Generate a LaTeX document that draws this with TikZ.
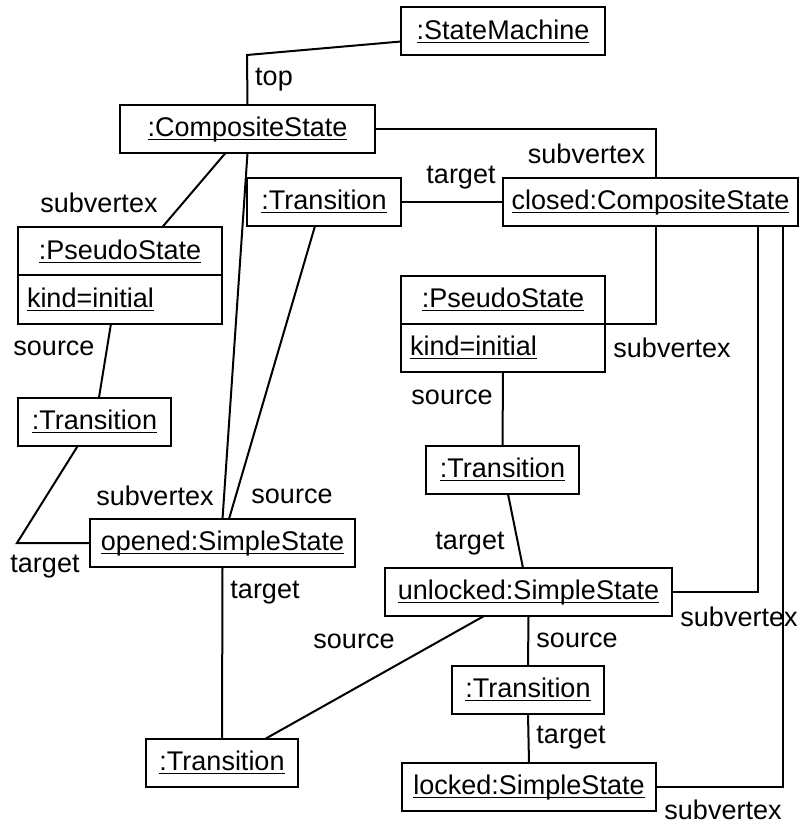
\documentclass[tikz,border=0pt]{standalone}
\usepackage{fontspec}
\setmainfont{Liberation Sans}
\usepackage{tikz}
\usetikzlibrary{positioning,calc}

\newcommand{\objname}[1]{\underline{\raisebox{0pt}[\height][0pt]{#1}}}

\begin{document}
\begin{tikzpicture}[x=0.5pt, y=-0.5pt,
    obj/.style={draw, line width=1pt, outer sep=0pt, inner sep=4.5pt, minimum height=24pt, font=\fontsize{13.5}{16}\selectfont},
    lbl/.style={font=\fontsize{13.5}{16}\selectfont, inner sep=0pt},
    link/.style={line width=1pt}]
    \useasboundingbox (0,0) rectangle (801,823);

    % Objects
    \node[obj, minimum width=102pt] (sm) at (503,31.5) {\objname{:StateMachine}};
    \node[obj, minimum width=127.5pt] (cs) at (247.5,129) {\objname{:CompositeState}};
    \node[obj, minimum width=77pt] (tr1) at (324,202) {\objname{:Transition}};
    \node[obj, minimum width=144.5pt] (closed) at (650.5,202) {\objname{closed:CompositeState}};

    % Initial pseudo states
    \node[obj, minimum width=102pt] (ps1) at (120,251.5) {\objname{:PseudoState}};
    \node[obj, text width=93pt, align=left, below=0pt of ps1] (ps1k) {\objname{kind=initial}};
    \node[obj, minimum width=102pt] (ps2) at (503,300) {\objname{:PseudoState}};
    \node[obj, text width=93pt, align=left, below=0pt of ps2] (ps2k) {\objname{kind=initial}};

    \node[obj, minimum width=76.5pt] (tr2) at (94.5,421.5) {\objname{:Transition}};
    \node[obj, minimum width=132.5pt] (opened) at (222.5,543) {\objname{opened:SimpleState}};
    \node[obj, minimum width=76.5pt] (tr3) at (502.5,470) {\objname{:Transition}};
    \node[obj, minimum width=143.5pt] (unlocked) at (528.5,592) {\objname{unlocked:SimpleState}};
    \node[obj, minimum width=76pt] (tr5) at (528,689.5) {\objname{:Transition}};
    \node[obj, minimum width=76pt] (tr4) at (222,763) {\objname{:Transition}};
    \node[obj, minimum width=127pt] (locked) at (529,787) {\objname{locked:SimpleState}};

    % Bends
    \coordinate (topbend) at (247,55);
    \coordinate (csbend) at (656,129);
    \coordinate (tr2bend) at (17,543);

    % Links
    \draw[link] (cs.north) -- (topbend) -- ([yshift=-5pt]sm.west);
    \draw[link] (cs.east) -- (csbend) -- (csbend |- closed.north);
    \draw[link] (tr1.east) -- (closed.west);
    \draw[link] ([xshift=-11pt]cs.south) -- ([xshift=21pt]ps1.north);
    \draw[link] (cs.south) -- (opened.north);
    \draw[link] ([xshift=-4.5pt]tr1.south) -- ([xshift=3.25pt]opened.north);
    \draw[link] ([xshift=-4.5pt]ps1k.south) -- ([xshift=2.25pt]tr2.north);
    \draw[link] ([xshift=-8.25pt]tr2.south) -- (tr2bend) -- (opened.west);
    \draw[link] (opened.south) -- (tr4.north);
    \draw[link] ([xshift=21.5pt]tr4.north) -- ([xshift=-22.25pt]unlocked.south);
    \draw[link] ([xshift=2.75pt]closed.south) |- (ps2.south east);
    \draw[link] (ps2k.south) -- (tr3.north);
    \draw[link] ([xshift=2.75pt]tr3.south) -- ([xshift=-2.75pt]unlocked.north);
    \draw[link] ([xshift=53.75pt]closed.south) |- (unlocked.east);
    \draw[link] ([xshift=66.25pt]closed.south) |- (locked.east);
    \draw[link] (unlocked.south) -- (tr5.north);
    \draw[link] (tr5.south) -- (locked.north);

    % Role names
    \node[lbl] (ltop) at (274,80) {top};
    \node[lbl] (lcssub) at (586.5,154) {subvertex};
    \node[lbl] (ltr1tgt) at (461,178) {target};
    \node[lbl] (lps1sub) at (99,203) {subvertex};
    \node[lbl] (lps1src) at (54,348) {source};
    \node[lbl] (lopsub) at (155,496) {subvertex};
    \node[lbl] (lopsrc) at (292,496) {source};
    \node[lbl] (ltr2tgt) at (45,567) {target};
    \node[lbl] (ltr4tgt) at (265,593) {target};
    \node[lbl] (ltr4src) at (354,641) {source};
    \node[lbl] (lps2sub) at (672,348) {subvertex};
    \node[lbl] (lps2src) at (452,397) {source};
    \node[lbl] (ltr3tgt) at (470,544) {target};
    \node[lbl] (lunsub) at (739,617) {subvertex};
    \node[lbl] (ltr5src) at (577,640) {source};
    \node[lbl] (ltr5tgt) at (571,738) {target};
    \node[lbl] (llocsub) at (723,810) {subvertex};
\end{tikzpicture}
\end{document}
